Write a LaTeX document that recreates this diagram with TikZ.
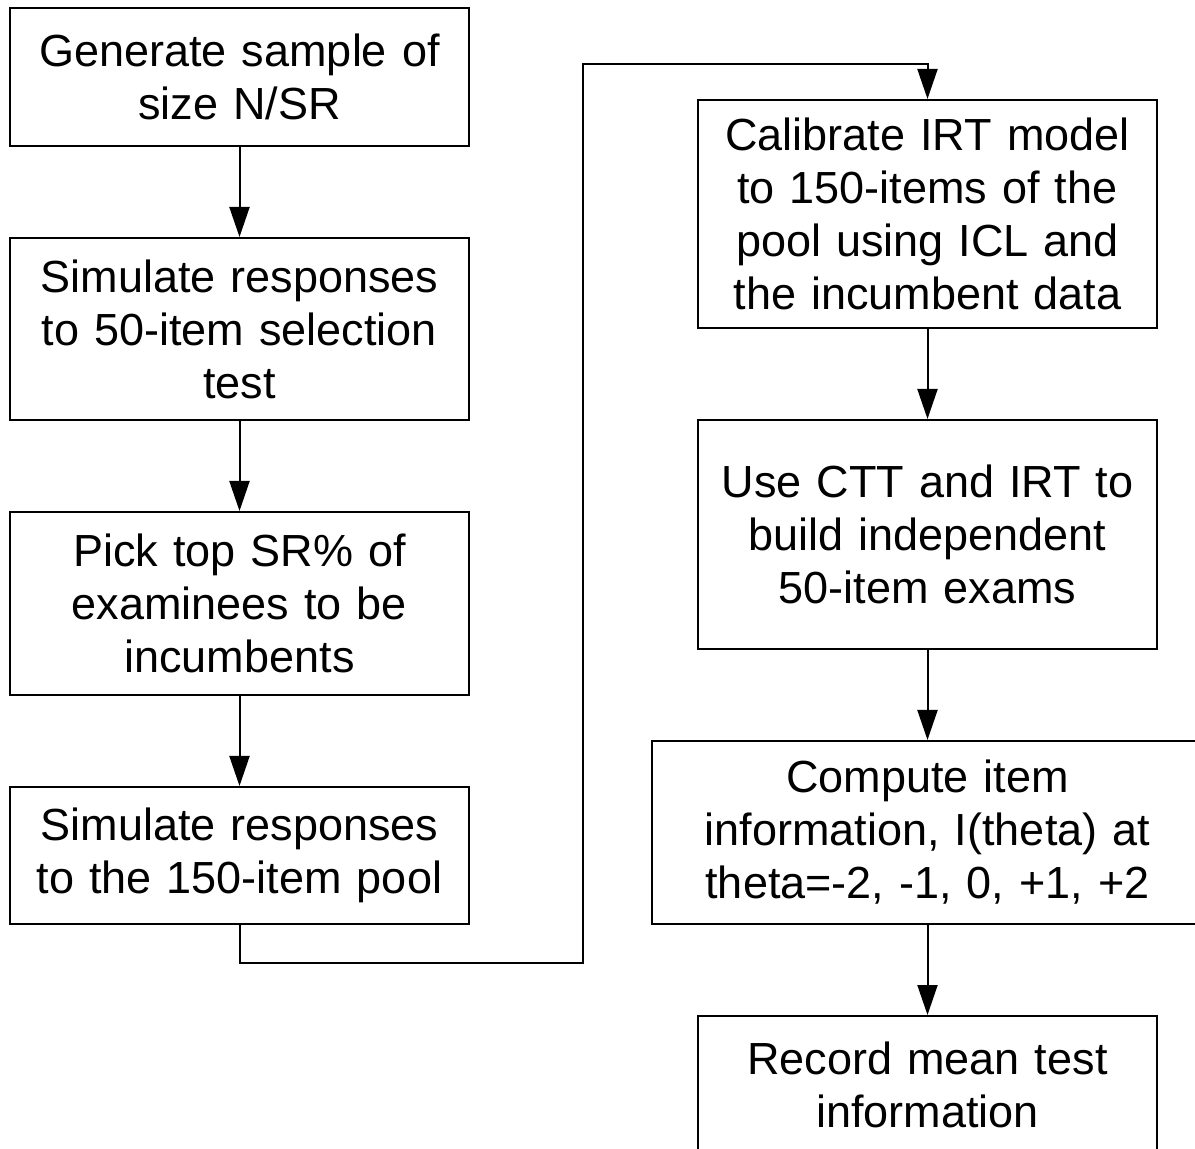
\documentclass[tikz,border=0pt]{standalone}
\usepackage{fontspec}
\setmainfont{Liberation Sans}
\usetikzlibrary{arrows.meta,positioning}

\tikzset{
  stepbox/.style={draw,line width=1pt,inner sep=0pt,align=center,
    text width=229.5pt,font=\fontsize{22.5}{26.5}\selectfont},
  flow/.style={draw,line width=1pt,-{Triangle[length=15pt,width=10pt]}},
  link/.style={draw,line width=1pt}
}

\begin{document}
\begin{tikzpicture}[x=0.5pt,y=-0.5pt,node distance=45pt]
      \useasboundingbox (0,0) rectangle (1195,1149);
      \clip (0,0) rectangle (1195,1149);
      % left column
      \node[stepbox,minimum height=69pt] (gen) at (239.5,77)
        {Generate sample of\\size N/SR};
      \node[stepbox,minimum height=91pt,below=of gen] (simsel)
        {Simulate responses\\to 50-item selection\\test};
      \node[stepbox,minimum height=91.5pt,below=of simsel] (pick)
        {Pick top SR\% of\\examinees to be\\incumbents};
      \node[stepbox,minimum height=68.5pt,below=of pick] (simpool)
        {Simulate responses\\to the 150-item pool};
      % right column
      \node[stepbox,minimum height=114pt] (calib) at (927.5,214)
        {Calibrate IRT model\\to 150-items of the\\pool using ICL and\\the incumbent data};
      \node[stepbox,minimum height=114.5pt,below=of calib] (build)
        {Use CTT and IRT to\\build independent\\50-item exams};
      \node[stepbox,minimum height=91.5pt,text width=276pt,below=of build] (info)
        {Compute item\\information, I(theta) at\\theta=-2, -1, 0, +1, +2};
      \node[stepbox,minimum height=68.5pt,below=of info] (record)
        {Record mean test\\information};
      % connectors
      \coordinate (low) at (583,963);
      \coordinate (high) at (583,64);
      \draw[flow] (gen) -- (simsel);
      \draw[flow] (simsel) -- (pick);
      \draw[flow] (pick) -- (simpool);
      \draw[flow] (simpool.south) |- (low) -- (high) -| (calib.north);
      \draw[flow] (calib) -- (build);
      \draw[flow] (build) -- (info);
      \draw[flow] (info) -- (record);
    \end{tikzpicture}
\end{document}
